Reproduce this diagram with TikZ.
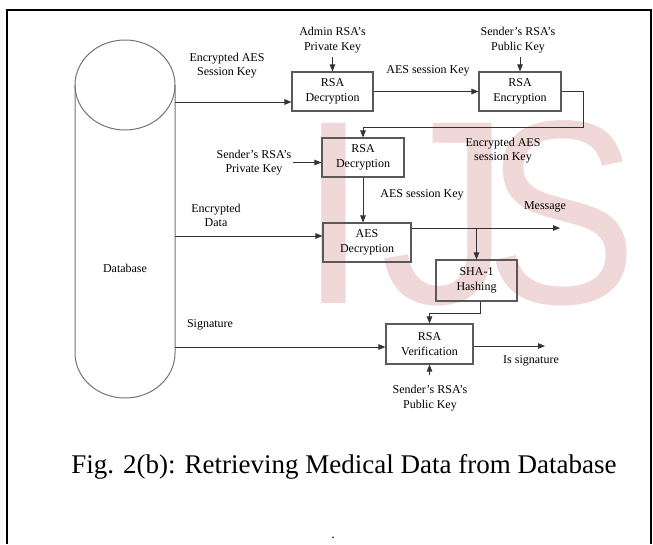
\documentclass[tikz,border=0pt]{standalone}
\usepackage{fontspec}
\setmainfont{Liberation Serif}
\newfontfamily\wmfont{Liberation Sans}
\usetikzlibrary{arrows.meta,backgrounds,calc}
\definecolor{wmgray}{RGB}{241,216,216}

\begin{document}
\begin{tikzpicture}[
      x=1pt,y=-1pt,
      every node/.style={font=\fontsize{12}{14.5}\selectfont,align=center,inner sep=1.5pt},
      blk/.style={draw=black!65,line width=1.1pt,minimum height=39pt,inner sep=0pt},
      ln/.style={draw=black!80,line width=0.9pt},
      arr/.style={ln,-{Triangle[length=7pt,width=5.5pt]}},
      wm/.style={font=\wmfont\fontsize{262}{262}\selectfont,text=wmgray,anchor=base west,inner sep=0pt}
    ]
    \useasboundingbox (0,0) rectangle (653,544);
    % watermark
    \begin{scope}[on background layer]
      \node[wm] (wmI) at (297,303) {I};
      \node[wm] (wmJ) at (380,303) {J};
      \node[wm,xscale=0.87,transform shape] (wmS) at (485,303) {S};
    \end{scope}
    % frame
    \draw[line width=2.2pt] (7,544) -- (7,10) -- (651,10) -- (651,544);
    % database
    \node[minimum width=100pt,minimum height=313pt,inner sep=0pt] (db) at (125,241.5) {};
    \draw[draw=black!55,line width=1pt] (125,85) ellipse [x radius=50pt,y radius=45pt];
    \draw[draw=black!55,line width=1pt] (75,85) -- (75,353)
      arc[start angle=180,end angle=360,x radius=50pt,y radius=45pt] -- (175,85);
    \node (dbl) at (125,268) {Database};
    % crypto blocks
    \node[blk,minimum width=81pt] (dec1) at (332.5,91.5) {RSA\\Decryption};
    \node[blk,minimum width=82pt] (enc) at (520,91.5) {RSA\\Encryption};
    \node[blk,minimum width=82pt] (dec2) at (363,157.5) {RSA\\Decryption};
    \node[blk,minimum width=88pt] (aesdec) at (367,242.5) {AES\\Decryption};
    \node[blk,minimum width=81pt,minimum height=41pt] (sha) at (476.5,280.5) {SHA-1\\Hashing};
    \node[blk,minimum width=87pt,minimum height=40pt] (ver) at (429.5,344) {RSA\\Verification};
    % keys and labels
    \node (kadm) at (332.5,40) {Admin RSA's\\Private Key};
    \node (kpub1) at (518,40) {Sender's RSA's\\Public Key};
    \node (kpriv) at (254,162.5) {Sender's RSA's\\Private Key};
    \node (kpub2) at (430,398) {Sender's RSA's\\Public Key};
    \node (lEsk) at (227,65.5) {Encrypted AES\\Session Key};
    \node (lSk1) at (428,71) {AES session Key};
    \node (lEsk2) at (503,150.5) {Encrypted AES\\session Key};
    \node (lSk2) at (422,195) {AES session Key};
    \node (lData) at (216,215.5) {Encrypted\\Data};
    \node (msg) at (545,207) {Message};
    \node (lSig) at (210,325) {Signature};
    \node (lIs) at (531,361) {Is signature};
    \coordinate (msgEnd) at (560,228);
    \coordinate (sigEnd) at (545,346);
    % connectors
    \draw[arr] (db.east |- 0,102) -- (dec1.west |- 0,102);
    \draw[arr] (dec1.east) -- (enc.west);
    \draw[arr] (enc.east) -- ++(22,0) -- ++(0,35.5) -| (dec2.north);
    \draw[arr] (kpriv.east) -- (kpriv.east -| dec2.west);
    \draw[arr] (dec2.south) -- (dec2.south |- aesdec.north);
    \draw[arr] (db.east |- 0,236) -- (aesdec.west |- 0,236);
    \draw[arr] (aesdec.east |- msgEnd) -- (msgEnd);
    \draw[arr] (sha.north |- msgEnd) -- (sha.north);
    \draw[arr] ($(sha.south)+(3.5,0)$) -- ++(0,12) -| (ver.north);
    \draw[arr] (db.east |- 0,347) -- (ver.west |- 0,347);
    \draw[arr] (ver.east |- sigEnd) -- (sigEnd);
    \foreach \b in {dec1,enc}{\draw[arr] (\b.north |- 0,57) -- (\b.north);}
    \draw[arr] (ver.south |- 0,375) -- (ver.south);
    % caption
    \node[anchor=base,font=\fontsize{27}{30}\selectfont] (cap) at (344,473)
      {Fig. 2(b): Retrieving Medical Data from Database};
    \node[anchor=base,font=\fontsize{14}{16}\selectfont] (dot) at (333,538) {.};
  \end{tikzpicture}
\end{document}
